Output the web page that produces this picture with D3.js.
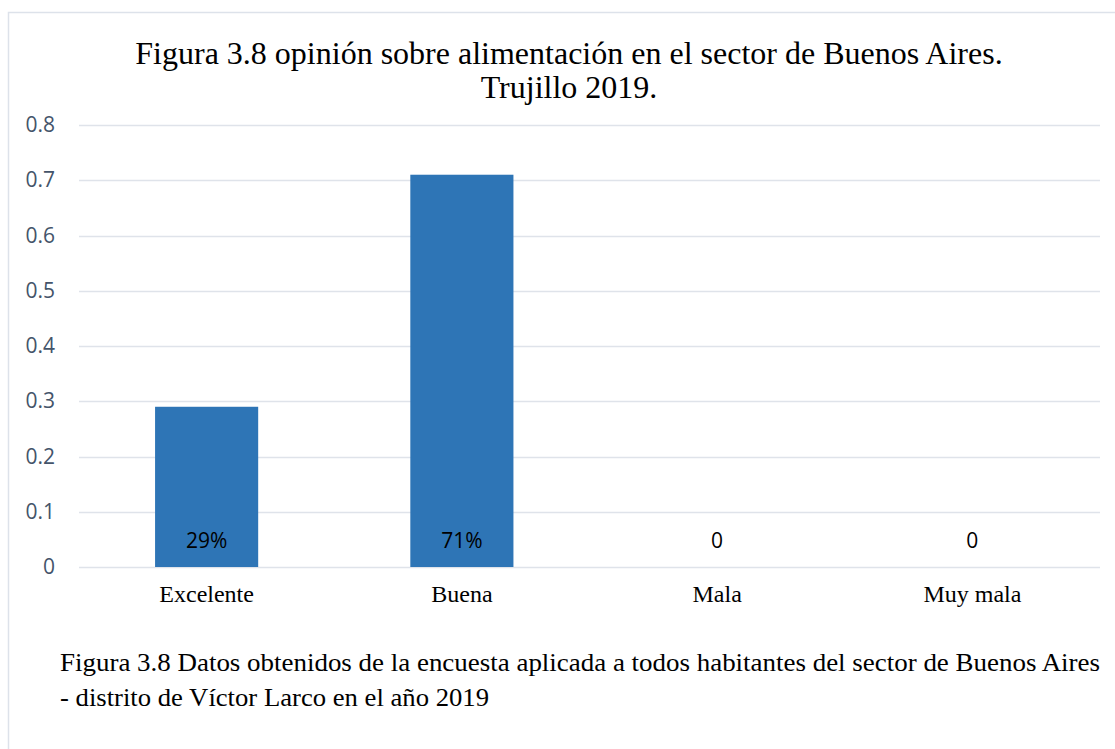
<!DOCTYPE html>
<html><head><meta charset="utf-8">
<script src="https://cdn.jsdelivr.net/npm/d3@7"></script>
<style>body{margin:0;background:#fff;}svg{display:block;}</style>
</head><body>
<script>
const categories = ["Excelente", "Buena", "Mala", "Muy mala"];
const values = [0.29, 0.71, 0, 0];
const valueLabels = ["29%", "71%", "0", "0"];
const yTicks = [0, 0.1, 0.2, 0.3, 0.4, 0.5, 0.6, 0.7, 0.8];
const titleLines = ["Figura 3.8 opinión sobre alimentación en el sector de Buenos Aires.", "Trujillo 2019."];
const captionLines = ["Figura 3.8 Datos obtenidos de la encuesta aplicada a todos habitantes del sector de Buenos Aires", "- distrito de Víctor Larco en el año 2019"];

const W = 1115, H = 749;
const serif = "'Liberation Serif', 'Times New Roman', serif";
const sans = "'Open Sans', 'Noto Sans', sans-serif";
const svg = d3.select("body").append("svg").attr("width", W).attr("height", H);

// frame
svg.append("path").attr("d", `M8.5,${H} V12.5 H${W}`).attr("fill","none").attr("stroke","#dde2ea").attr("stroke-width",1.5);

const x = d3.scaleBand().domain(categories).range([79, 1100]).paddingInner(0.596).paddingOuter(0.298);
const y = d3.scaleLinear().domain([0, 0.8]).range([567, 125]);

// gridlines
svg.append("g").selectAll("line").data(yTicks).join("line")
  .attr("x1", 79).attr("x2", 1100)
  .attr("y1", d => Math.round(y(d)) + 0.5).attr("y2", d => Math.round(y(d)) + 0.5)
  .attr("stroke", "#dfe3ea").attr("stroke-width", 1.3);

// y axis labels
const yAxis = d3.axisLeft(y).tickValues(yTicks).tickSize(0).tickPadding(0).tickFormat(d => d === 0 ? "0" : d3.format(".1f")(d));
const ga = svg.append("g").attr("transform", "translate(55,0)").call(yAxis);
ga.attr("font-size", null).attr("font-family", null);
ga.select(".domain").remove();
ga.selectAll("text").style("font-family", sans).style("font-size", "21px").attr("fill", "#44546a");

// bars
svg.append("g").selectAll("rect").data(values).join("rect")
  .attr("x", (d, i) => x(categories[i])).attr("width", x.bandwidth())
  .attr("y", d => y(d)).attr("height", d => y(0) - y(d))
  .attr("fill", "#2e75b6");

// value labels
svg.append("g").selectAll("text").data(valueLabels).join("text")
  .attr("x", (d, i) => x(categories[i]) + x.bandwidth() / 2).attr("y", 548)
  .attr("text-anchor", "middle").style("font-family", sans)
  .style("font-size", "21px").attr("fill", "#000").text(d => d);

// x axis labels
const xAxis = d3.axisBottom(x).tickSize(0).tickPadding(0);
const gx = svg.append("g").attr("transform", "translate(0,602)").call(xAxis);
gx.attr("font-size", null).attr("font-family", null);
gx.select(".domain").remove();
gx.selectAll("text").style("font-family", serif).style("font-size", "24px").attr("fill", "#000").attr("dy", "0");

// title
svg.append("g").selectAll("text").data(titleLines).join("text")
  .attr("x", 569).attr("y", (d, i) => 64 + i * 34)
  .attr("text-anchor", "middle").style("font-family", serif)
  .style("font-size", "32px").attr("fill", "#000").text(d => d);

// caption
svg.append("g").selectAll("text").data(captionLines).join("text")
  .attr("x", 60).attr("y", (d, i) => 671 + i * 35)
  .style("font-family", serif)
  .style("font-size", "25px").attr("fill", "#000")
  .attr("textLength", (d, i) => i === 0 ? 1040 : 429).attr("lengthAdjust", "spacingAndGlyphs")
  .text(d => d);
</script>
</body></html>
